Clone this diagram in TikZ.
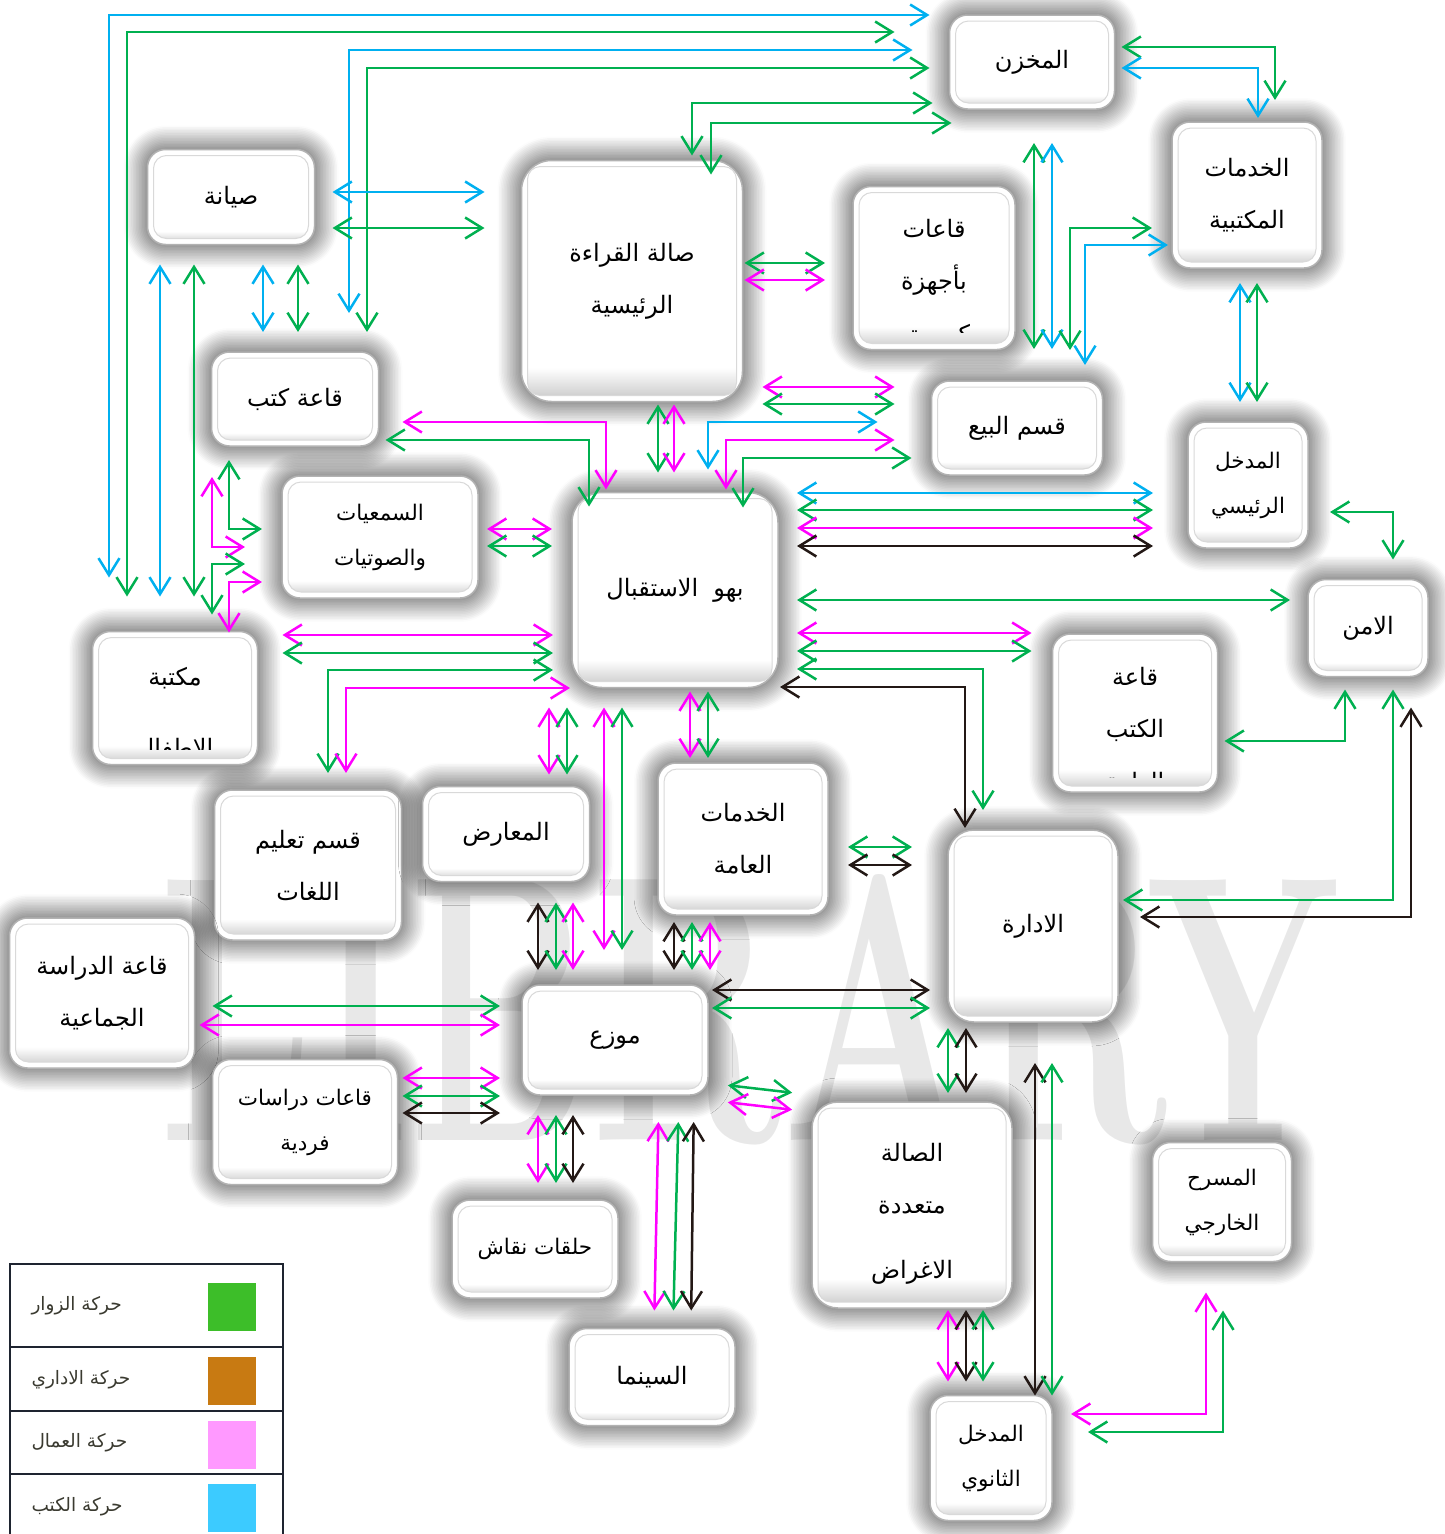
\documentclass[tikz,border=0pt]{standalone}
\usepackage{fontspec}
\usepackage{xcolor}
\usepackage{tikz}
\usetikzlibrary{arrows.meta,shadows.blur}
\newfontfamily\arabicfont[Script=Arabic]{DejaVu Sans}
\TeXXeTstate=1
\definecolor{LBGreen}{HTML}{00B050}
\definecolor{LBBlue}{HTML}{00B0F0}
\definecolor{LBPink}{HTML}{FF00FF}
\definecolor{LBBlack}{HTML}{231815}
\definecolor{LBKeyGreen}{HTML}{3DBE29}
\definecolor{LBKeyOrange}{HTML}{C87A12}
\definecolor{LBKeyPink}{HTML}{FF99FF}
\definecolor{LBKeyBlue}{HTML}{3CCBFF}
\definecolor{LBFrame}{HTML}{1E2430}
\definecolor{LBKeyText}{HTML}{3A3A30}
\newcommand{\arb}[1]{\beginR #1\endR}
\newcommand{\LBbig}{\arabicfont\fontsize{24}{52}\selectfont}
\newcommand{\LBsmall}{\arabicfont\fontsize{21.5}{45}\selectfont}
\pgfdeclareverticalshading{LBbevel}{100bp}{color(0bp)=(gray!45); color(25bp)=(gray!45); color(32bp)=(white); color(100bp)=(white)}
\tikzset{
  room/.style={rounded corners=18pt, draw=gray!60, line width=1.5pt, fill=white,
    inner sep=0pt, outer sep=0pt, align=center, font=\LBbig,
    blur shadow={shadow xshift=0pt, shadow yshift=0pt, shadow blur radius=24pt, shadow blur steps=16, shadow opacity=85},
    path picture={
      \shade[shading=LBbevel, rounded corners=13pt] ([shift={(6pt,-6pt)}]path picture bounding box.north west) rectangle ([shift={(-6pt,6pt)}]path picture bounding box.south east);
      \draw[gray!30, line width=1pt, rounded corners=13pt] ([shift={(6pt,-6pt)}]path picture bounding box.north west) rectangle ([shift={(-6pt,6pt)}]path picture bounding box.south east);
    }},
  roomtext/.style={font=\LBbig, align=center, inner sep=0pt},
  link/.style={line width=2.5pt, <->},
  visflow/.style={draw=LBGreen},
  admflow/.style={draw=LBBlack},
  wrkflow/.style={draw=LBPink},
  bookflow/.style={draw=LBBlue},
  keybox/.style={minimum size=48pt, inner sep=0pt, draw=none},
  keytext/.style={anchor=west, font=\arabicfont\fontsize{18.5}{20}\selectfont, text=LBKeyText}
}

\begin{document}
\begin{tikzpicture}[x=1pt,y=-1pt,>={Straight Barb[length=17pt,width=21pt]}]
\path[use as bounding box] (0,0) rectangle (1445,1534);
\node[text=gray!18, font=\fontsize{380}{380}\selectfont\bfseries, xscale=0.6] (mark) at (750,1010) {LIBRARY};

\node[room, minimum width=165pt, minimum height=94pt] (store) at (1032,62) {\arb{المخزن}};
\node[room, minimum width=150pt, minimum height=146pt] (office) at (1247,195) {\arb{الخدمات}\\\arb{المكتبية}};
\node[room, minimum width=167pt, minimum height=95pt] (maint) at (231,197) {\arb{صيانة}};
\node[room, rounded corners=30pt, minimum width=221pt, minimum height=241pt] (reading) at (632,281) {\arb{صالة القراءة}\\\arb{الرئيسية}};
\node[room, minimum width=162pt, minimum height=163pt] (halls) at (934,268) {};
\node[room, minimum width=167pt, minimum height=94pt] (bookroom) at (295,399) {\arb{قاعة كتب}};
\node[room, minimum width=171pt, minimum height=94pt] (sales) at (1017,428) {\arb{قسم البيع}};
\node[room, font=\LBsmall, minimum width=120pt, minimum height=126pt] (mainentr) at (1248,485) {\arb{المدخل}\\\arb{الرئيسي}};
\node[room, font=\LBsmall, minimum width=196pt, minimum height=122pt] (audio) at (380,537) {\arb{السمعيات}\\\arb{والصوتيات}};
\node[room, rounded corners=30pt, minimum width=206pt, minimum height=195pt] (lobby) at (675,590) {\arb{بهو\ \ الاستقبال}};
\node[room, minimum width=120pt, minimum height=97pt] (security) at (1368,628) {\arb{الامن}};
\node[room, minimum width=165pt, minimum height=133pt] (kids) at (175,698) {};
\node[room, minimum width=165pt, minimum height=158pt] (bookhall) at (1135,713) {};
\node[room, minimum width=187pt, minimum height=150pt] (lang) at (308,865) {\arb{قسم تعليم}\\\arb{اللغات}};
\node[room, minimum width=167pt, minimum height=95pt] (expo) at (506,834) {\arb{المعارض}};
\node[room, minimum width=170pt, minimum height=152pt] (pubserv) at (743,839) {\arb{الخدمات}\\\arb{العامة}};
\node[room, rounded corners=26pt, minimum width=170pt, minimum height=192pt] (admin) at (1033,926) {\arb{الادارة}};
\node[room, minimum width=185pt, minimum height=150pt] (group) at (102,993) {\arb{قاعة الدراسة}\\\arb{الجماعية}};
\node[room, minimum width=186pt, minimum height=110pt] (distrib) at (615,1040) {\arb{موزع}};
\node[room, font=\LBsmall, minimum width=185pt, minimum height=125pt] (solo) at (305,1122) {\arb{قاعات دراسات}\\\arb{فردية}};
\node[room, rounded corners=26pt, minimum width=200pt, minimum height=206pt] (multi) at (912,1205) {\rule{0pt}{36pt}\arb{الصالة}\\\arb{متعددة}\\[13pt]\arb{الاغراض}};
\node[room, font=\LBsmall, minimum width=139pt, minimum height=119pt] (theatre) at (1222,1202) {\arb{المسرح}\\\arb{الخارجي}};
\node[room, font=\LBsmall, minimum width=166pt, minimum height=98pt] (talks) at (535,1249) {\arb{حلقات نقاش}};
\node[room, minimum width=166pt, minimum height=97pt] (cinema) at (652,1377) {\arb{السينما}};
\node[room, font=\LBsmall, minimum width=122pt, minimum height=125pt] (sideentr) at (991,1458) {\arb{المدخل}\\\arb{الثانوي}};

\node[roomtext] (hallsTxt) at ([yshift=11pt]halls.center) {\arb{قاعات}\\\arb{بأجهزة}};
\node[roomtext] (kidsTxt) at ([yshift=20pt]kids.center) {\arb{مكتبة}};
\node[roomtext] (bookhallTxt) at ([yshift=9pt]bookhall.center) {\arb{قاعة}\\\arb{الكتب}};
\begin{scope}
\clip (halls.north west) rectangle ([yshift=17pt]halls.south east);
\node[roomtext] (hallsCut) at ([yshift=-68pt]halls.center) {\arb{كمبيوتر}};
\end{scope}
\begin{scope}
\clip (kids.north west) rectangle ([yshift=15pt]kids.south east);
\node[roomtext] (kidsCut) at ([yshift=-51pt]kids.center) {\arb{الاطفال}};
\end{scope}
\begin{scope}
\clip (bookhall.north west) rectangle ([yshift=15pt]bookhall.south east);
\node[roomtext] (bookhallCut) at ([yshift=-69pt]bookhall.center) {\arb{العامة}};
\end{scope}

\draw[link,bookflow,shorten <=54pt,shorten >=20pt] (kids.north -| 109,0) |- (store.west |- 0,15);
\draw[link,visflow,shorten <=35pt,shorten >=55pt] (kids.north -| 127,0) |- (store.west |- 0,32);
\draw[link,bookflow,shorten <=39pt,shorten >=37pt] (bookroom.north -| 349,0) |- (store.west |- 0,50);
\draw[link,visflow,shorten <=20pt,shorten >=20pt] (bookroom.north -| 367,0) |- (store.west |- 0,68);
\draw[link,visflow,shorten <=5pt,shorten >=17pt] (reading.north -| 692,0) |- (store.west |- 0,103);
\draw[link,visflow,shorten <=-14pt,shorten >=-2pt] (reading.north -| 711,0) |- (store.west |- 0,123);

\draw[link,bookflow,shorten <=18pt,shorten >=37pt] (maint.east |- 0,192) -- (reading.west |- 0,192);
\draw[link,visflow,shorten <=18pt,shorten >=37pt] (maint.east |- 0,228) -- (reading.west |- 0,228);
\draw[link,bookflow,shorten <=35pt,shorten >=20pt] (kids.north -| 160,0) -- (maint.south -| 160,0);
\draw[link,visflow,shorten <=35pt,shorten >=20pt] (kids.north -| 194,0) -- (maint.south -| 194,0);
\draw[link,bookflow,shorten <=20pt,shorten >=20pt] (maint.south -| 263,0) -- (bookroom.north -| 263,0);
\draw[link,visflow,shorten <=20pt,shorten >=20pt] (maint.south -| 298,0) -- (bookroom.north -| 298,0);

\draw[link,visflow,shorten <=2pt,shorten >=28pt] (reading.east |- 0,263) -- (halls.west |- 0,263);
\draw[link,wrkflow,shorten <=2pt,shorten >=28pt] (reading.east |- 0,280) -- (halls.west |- 0,280);
\draw[link,visflow,shorten <=3pt,shorten >=20pt] (reading.south -| 658,0) -- (lobby.north -| 658,0);
\draw[link,wrkflow,shorten <=3pt,shorten >=20pt] (reading.south -| 674,0) -- (lobby.north -| 674,0);
\draw[link,wrkflow,shorten <=24pt,shorten >=3pt] (bookroom.east |- 0,422) -| (lobby.north -| 606,0);
\draw[link,visflow,shorten <=7pt,shorten >=-14pt] (bookroom.east |- 0,440) -| (lobby.north -| 589,0);

\draw[link,bookflow,shorten <=23pt,shorten >=54pt] (lobby.north -| 708,0) |- (sales.west |- 0,422);
\draw[link,wrkflow,shorten <=3pt,shorten >=37pt] (lobby.north -| 726,0) |- (sales.west |- 0,440);
\draw[link,visflow,shorten <=-15pt,shorten >=20pt] (lobby.north -| 743,0) |- (sales.west |- 0,458);
\draw[link,wrkflow,shorten <=20pt,shorten >=37pt] (reading.east |- 0,387) -- (sales.west |- 0,387);
\draw[link,visflow,shorten <=20pt,shorten >=37pt] (reading.east |- 0,404) -- (sales.west |- 0,404);

\draw[link,bookflow,shorten <=19pt,shorten >=35pt] (lobby.east |- 0,493) -- (mainentr.west |- 0,493);
\draw[link,visflow,shorten <=19pt,shorten >=35pt] (lobby.east |- 0,510) -- (mainentr.west |- 0,510);
\draw[link,wrkflow,shorten <=19pt,shorten >=35pt] (lobby.east |- 0,528) -- (mainentr.west |- 0,528);
\draw[link,admflow,shorten <=19pt,shorten >=35pt] (lobby.east |- 0,546) -- (mainentr.west |- 0,546);

\draw[link,visflow,shorten <=7pt,shorten >=22pt] (store.east |- 0,47) -| (office.north -| 1275,0);
\draw[link,bookflow,shorten <=7pt,shorten >=4pt] (store.east |- 0,68) -| (office.north -| 1258,0);
\draw[link,visflow,shorten <=34pt,shorten >=32pt] (store.south -| 1034,0) -- (sales.north -| 1034,0);
\draw[link,bookflow,shorten <=34pt,shorten >=32pt] (store.south -| 1052,0) -- (sales.north -| 1052,0);
\draw[link,visflow,shorten <=31pt,shorten >=20pt] (sales.north -| 1070,0) |- (office.west |- 0,228);
\draw[link,bookflow,shorten <=16pt,shorten >=4pt] (sales.north -| 1085,0) |- (office.west |- 0,245);
\draw[link,bookflow,shorten <=15pt,shorten >=20pt] (office.south -| 1240,0) -- (mainentr.north -| 1240,0);
\draw[link,visflow,shorten <=15pt,shorten >=20pt] (office.south -| 1257,0) -- (mainentr.north -| 1257,0);
\draw[link,visflow,shorten <=22pt,shorten >=20pt] (mainentr.east |- 0,512) -| (security.north -| 1393,0);

\draw[link,visflow,shorten <=19pt,shorten >=18pt] (lobby.east |- 0,600) -- (security.west |- 0,600);
\draw[link,wrkflow,shorten <=19pt,shorten >=21pt] (lobby.east |- 0,633) -- (bookhall.west |- 0,633);
\draw[link,visflow,shorten <=19pt,shorten >=21pt] (lobby.east |- 0,651) -- (bookhall.west |- 0,651);
\draw[link,visflow,shorten <=19pt,shorten >=20pt] (lobby.east |- 0,669) -| (admin.north -| 983,0);
\draw[link,admflow,shorten <=2pt,shorten >=2pt] (lobby.east |- 0,687) -| (admin.north -| 965,0);
\draw[link,visflow,shorten <=7pt,shorten >=13pt] (bookhall.east |- 0,741) -| (security.south -| 1345,0);
\draw[link,visflow,shorten <=5pt,shorten >=13pt] (admin.east |- 0,900) -| (security.south -| 1393,0);
\draw[link,admflow,shorten <=22pt,shorten >=31pt] (admin.east |- 0,917) -| (security.south -| 1411,0);
\draw[link,visflow,shorten <=20pt,shorten >=36pt] (pubserv.east |- 0,847) -- (admin.west |- 0,847);
\draw[link,admflow,shorten <=20pt,shorten >=36pt] (pubserv.east |- 0,865) -- (admin.west |- 0,865);

\draw[link,wrkflow,shorten <=4pt,shorten >=5pt] (lobby.south -| 690,0) -- (pubserv.north -| 690,0);
\draw[link,visflow,shorten <=4pt,shorten >=5pt] (lobby.south -| 708,0) -- (pubserv.north -| 708,0);
\draw[link,wrkflow,shorten <=20pt,shorten >=12pt] (lobby.south -| 549,0) -- (expo.north -| 549,0);
\draw[link,visflow,shorten <=20pt,shorten >=12pt] (lobby.south -| 567,0) -- (expo.north -| 567,0);
\draw[link,wrkflow,shorten <=20pt,shorten >=35pt] (lobby.south -| 604,0) -- (distrib.north -| 604,0);
\draw[link,visflow,shorten <=20pt,shorten >=35pt] (lobby.south -| 622,0) -- (distrib.north -| 622,0);

\draw[link,wrkflow,shorten <=9pt,shorten >=20pt] (audio.east |- 0,529) -- (lobby.west |- 0,529);
\draw[link,visflow,shorten <=9pt,shorten >=20pt] (audio.east |- 0,546) -- (lobby.west |- 0,546);
\draw[link,wrkflow,shorten <=25pt,shorten >=19pt] (kids.east |- 0,635) -- (lobby.west |- 0,635);
\draw[link,visflow,shorten <=25pt,shorten >=19pt] (kids.east |- 0,653) -- (lobby.west |- 0,653);
\draw[link,visflow,shorten <=17pt,shorten >=19pt] (lang.north -| 328,0) |- (lobby.west |- 0,670);
\draw[link,wrkflow,shorten <=17pt,shorten >=2pt] (lang.north -| 346,0) |- (lobby.west |- 0,688);

\draw[link,visflow,shorten <=14pt,shorten >=20pt] (bookroom.south -| 229,0) |- (audio.west |- 0,529);
\draw[link,wrkflow,shorten <=31pt,shorten >=37pt] (bookroom.south -| 212,0) |- (audio.west |- 0,547);
\draw[link,visflow,shorten <=17pt,shorten >=37pt] (kids.north -| 212,0) |- (audio.west |- 0,564);
\draw[link,wrkflow,shorten <=-1pt,shorten >=20pt] (kids.north -| 229,0) |- (audio.west |- 0,582);

\draw[link,admflow,shorten <=21pt,shorten >=15pt] (expo.south -| 538,0) -- (distrib.north -| 538,0);
\draw[link,visflow,shorten <=21pt,shorten >=15pt] (expo.south -| 556,0) -- (distrib.north -| 556,0);
\draw[link,wrkflow,shorten <=21pt,shorten >=15pt] (expo.south -| 573,0) -- (distrib.north -| 573,0);
\draw[link,admflow,shorten <=7pt,shorten >=15pt] (pubserv.south -| 674,0) -- (distrib.north -| 674,0);
\draw[link,visflow,shorten <=7pt,shorten >=15pt] (pubserv.south -| 692,0) -- (distrib.north -| 692,0);
\draw[link,wrkflow,shorten <=7pt,shorten >=15pt] (pubserv.south -| 710,0) -- (distrib.north -| 710,0);

\draw[link,admflow,shorten <=4pt,shorten >=18pt] (distrib.east |- 0,990) -- (admin.west |- 0,990);
\draw[link,visflow,shorten <=4pt,shorten >=18pt] (distrib.east |- 0,1008) -- (admin.west |- 0,1008);
\draw[link,visflow,shorten <=18pt,shorten >=22pt] (group.east |- 0,1006) -- (distrib.west |- 0,1006);
\draw[link,wrkflow,shorten <=5pt,shorten >=22pt] (group.east |- 0,1025) -- (distrib.west |- 0,1025);
\draw[link,wrkflow,shorten <=5pt,shorten >=22pt] (solo.east |- 0,1078) -- (distrib.west |- 0,1078);
\draw[link,visflow,shorten <=5pt,shorten >=22pt] (solo.east |- 0,1096) -- (distrib.west |- 0,1096);
\draw[link,admflow,shorten <=5pt,shorten >=22pt] (solo.east |- 0,1113) -- (distrib.west |- 0,1113);

\draw[link,wrkflow,shorten <=20pt,shorten >=17pt] (distrib.south -| 538,0) -- (talks.north -| 538,0);
\draw[link,visflow,shorten <=20pt,shorten >=17pt] (distrib.south -| 556,0) -- (talks.north -| 556,0);
\draw[link,admflow,shorten <=20pt,shorten >=17pt] (distrib.south -| 573,0) -- (talks.north -| 573,0);
\draw[link,wrkflow,shorten <=27pt,shorten >=18pt] (distrib.south -| 659,0) -- (cinema.north -| 654,0);
\draw[link,visflow,shorten <=27pt,shorten >=18pt] (distrib.south -| 679,0) -- (cinema.north -| 673,0);
\draw[link,admflow,shorten <=27pt,shorten >=18pt] (distrib.south -| 694,0) -- (cinema.north -| 691,0);
\draw[link,visflow,shorten <=20pt,shorten >=20pt] (distrib.east |- 0,1083) -- (multi.west |- 0,1095);
\draw[link,wrkflow,shorten <=20pt,shorten >=20pt] (distrib.east |- 0,1100) -- (multi.west |- 0,1112);

\draw[link,visflow,shorten <=6pt,shorten >=9pt] (admin.south -| 948,0) -- (multi.north -| 948,0);
\draw[link,admflow,shorten <=6pt,shorten >=9pt] (admin.south -| 966,0) -- (multi.north -| 966,0);
\draw[link,admflow,shorten <=41pt,shorten >=0pt] (admin.south -| 1035,0) -- (sideentr.north -| 1035,0);
\draw[link,visflow,shorten <=41pt,shorten >=0pt] (admin.south -| 1052,0) -- (sideentr.north -| 1052,0);
\draw[link,wrkflow,shorten <=2pt,shorten >=14pt] (multi.south -| 948,0) -- (sideentr.north -| 948,0);
\draw[link,admflow,shorten <=2pt,shorten >=14pt] (multi.south -| 966,0) -- (sideentr.north -| 966,0);
\draw[link,visflow,shorten <=2pt,shorten >=14pt] (multi.south -| 983,0) -- (sideentr.north -| 983,0);
\draw[link,wrkflow,shorten <=31pt,shorten >=19pt] (theatre.south -| 1206,0) |- (sideentr.east |- 0,1414);
\draw[link,visflow,shorten <=49pt,shorten >=36pt] (theatre.south -| 1223,0) |- (sideentr.east |- 0,1432);

\fill[white] (10,1264) rectangle (283,1545);
\draw[LBFrame,line width=2pt] (10,1545) |- (283,1264) -- (283,1545);
\draw[LBFrame,line width=2pt] (10,1347) -- (283,1347);
\draw[LBFrame,line width=2pt] (10,1411) -- (283,1411);
\draw[LBFrame,line width=2pt] (10,1474) -- (283,1474);
\node[keybox,fill=LBKeyGreen] (keyVis) at (232,1307) {};
\node[keytext] (keyVisTxt) at (28,1306) {\arb{حركة الزوار}};
\node[keybox,fill=LBKeyOrange] (keyAdm) at (232,1381) {};
\node[keytext] (keyAdmTxt) at (28,1380) {\arb{حركة الاداري}};
\node[keybox,fill=LBKeyPink] (keyWrk) at (232,1445) {};
\node[keytext] (keyWrkTxt) at (28,1443) {\arb{حركة العمال}};
\node[keybox,fill=LBKeyBlue] (keyBook) at (232,1508) {};
\node[keytext] (keyBookTxt) at (28,1507) {\arb{حركة الكتب}};
\end{tikzpicture}
\end{document}
